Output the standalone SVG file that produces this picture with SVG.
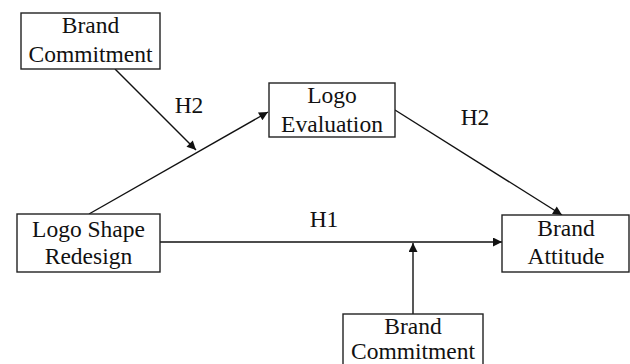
<svg xmlns="http://www.w3.org/2000/svg" width="630" height="364" viewBox="0 0 630 364">
<style>
.box{fill:#fff;stroke:#222;stroke-width:1.4}
.t{font-family:"Liberation Serif","Times New Roman",serif;font-size:23.5px;fill:#111;text-anchor:middle}
.c{stroke:#111;stroke-width:1.4;fill:none;marker-end:url(#ah)}
</style>
<defs>
<marker id="ah" viewBox="0 0 10 10" refX="10" refY="5" markerWidth="11" markerHeight="9" markerUnits="userSpaceOnUse" orient="auto">
<path d="M0,0 L10,5 L0,10 z" fill="#111"/>
</marker>
</defs>
<rect width="630" height="364" fill="#fff"/>
<g id="connectors">
<line class="c" x1="115" y1="69" x2="196" y2="150"/>
<line class="c" x1="89" y1="214" x2="268" y2="112"/>
<line class="c" x1="395" y1="110" x2="562" y2="215"/>
<line class="c" x1="160" y1="242" x2="502" y2="242"/>
<line class="c" x1="413" y1="314" x2="413" y2="243"/>
<text class="t" x="189" y="113">H2</text>
<text class="t" x="475" y="125">H2</text>
<text class="t" x="324" y="227">H1</text>
</g>
<g id="brand-commitment-top">
<rect class="box" x="21" y="13" width="139" height="56"/>
<text class="t" x="90.5" y="33">Brand</text>
<text class="t" x="90.5" y="62">Commitment</text>
</g>
<g id="logo-evaluation">
<rect class="box" x="269" y="83" width="126" height="54"/>
<text class="t" x="332" y="103">Logo</text>
<text class="t" x="332" y="131.5">Evaluation</text>
</g>
<g id="logo-shape-redesign">
<rect class="box" x="17" y="214" width="143" height="58"/>
<text class="t" x="88.5" y="236.5">Logo Shape</text>
<text class="t" x="88.5" y="264">Redesign</text>
</g>
<g id="brand-attitude">
<rect class="box" x="502" y="215" width="127" height="57"/>
<text class="t" x="566" y="235.5">Brand</text>
<text class="t" x="566" y="264">Attitude</text>
</g>
<g id="brand-commitment-bottom">
<rect class="box" x="343" y="314" width="140" height="60"/>
<text class="t" x="413" y="334">Brand</text>
<text class="t" x="413" y="359">Commitment</text>
</g>
</svg>
